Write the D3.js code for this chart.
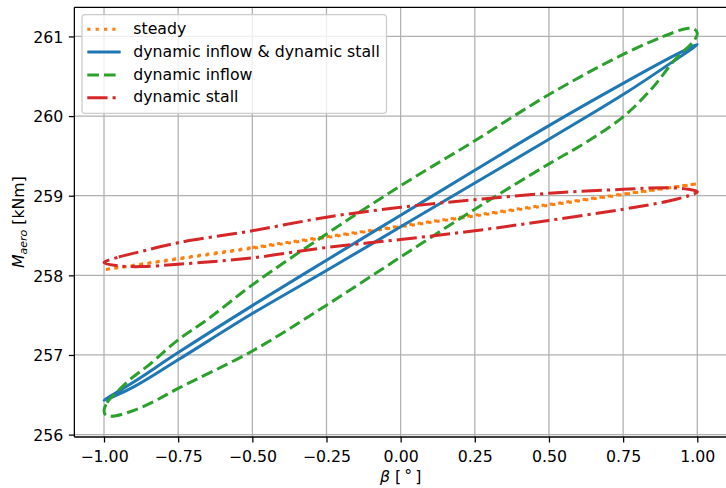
<!DOCTYPE html>
<html>
<head>
<meta charset="utf-8">
<script src="https://cdn.jsdelivr.net/npm/d3@7"></script>
<style>
  html, body { margin: 0; background: #fff; overflow: hidden; }
  svg { display: block; }
  text { font-family: "DejaVu Sans", sans-serif; fill: #000; }
</style>
</head>
<body>
<script>
// hysteresis loops of aerodynamic moment vs pitch angle, [beta, M] traced once round
var steady = [
  [-1.0, 258.07], [-0.5, 258.35], [0, 258.62], [0.5, 258.89], [1.0, 259.15],
  [0.5, 258.88], [0, 258.61], [-0.5, 258.34]
];
var dynInflowStall = [
  [-1.0, 256.43], [-0.9, 256.66], [-0.75, 257.03], [-0.5, 257.62], [-0.25, 258.19],
  [0, 258.755], [0.25, 259.32], [0.5, 259.88], [0.75, 260.41], [0.92, 260.755], [1.0, 260.90],
  [0.92, 260.69], [0.75, 260.27], [0.5, 259.71], [0.25, 259.16], [0, 258.61],
  [-0.25, 258.06], [-0.5, 257.52], [-0.75, 256.94], [-0.9, 256.60]
];
var dynInflow = [
  [-1.0, 256.30], [-0.99, 256.40], [-0.955, 256.54], [-0.91, 256.70], [-0.85, 256.87],
  [-0.75, 257.19], [-0.65, 257.45], [-0.5, 257.88], [-0.25, 258.52], [0, 259.125],
  [0.25, 259.69], [0.5, 260.27], [0.75, 260.775], [0.92, 261.05], [0.965, 261.10],
  [0.99, 261.09], [1.0, 261.04], [0.99, 260.95], [0.975, 260.89], [0.95, 260.80],
  [0.92, 260.69], [0.85, 260.36], [0.75, 259.99], [0.625, 259.67], [0.5, 259.40],
  [0.25, 258.83], [0, 258.23], [-0.25, 257.625], [-0.5, 257.05], [-0.75, 256.58],
  [-0.83, 256.42], [-0.91, 256.29], [-0.975, 256.23], [-0.995, 256.25]
];
var dynStall = [
  [-1.0, 258.16], [-0.95, 258.23], [-0.875, 258.30], [-0.75, 258.41], [-0.5, 258.56],
  [-0.25, 258.73], [0, 258.855], [0.25, 258.95], [0.5, 259.03], [0.75, 259.08],
  [0.9, 259.10], [0.97, 259.08], [1.0, 259.05], [0.97, 259.0], [0.9, 258.93],
  [0.75, 258.83], [0.5, 258.69], [0.25, 258.56], [0, 258.45], [-0.25, 258.35],
  [-0.5, 258.22], [-0.75, 258.14], [-0.875, 258.11], [-0.95, 258.12]
];

var seriesLabels = ["steady", "dynamic inflow & dynamic stall", "dynamic inflow", "dynamic stall"];
var xTicks = [-1, -0.75, -0.5, -0.25, 0, 0.25, 0.5, 0.75, 1];
var yTicks = [256, 257, 258, 259, 260, 261];

var width = 726, height = 488;
var fontSize = 15.75;

var svg = d3.select("body").append("svg")
    .attr("width", width)
    .attr("height", height);

var x = d3.scaleLinear().domain([-1.1, 1.1]).range([74.35, 726.95]);
var y = d3.scaleLinear().domain([255.97, 261.366]).range([437, 7.3]);

var plotLeft = x.range()[0], plotRight = x.range()[1];
var plotTop = y.range()[1], plotBottom = y.range()[0];

svg.append("defs").append("clipPath").attr("id", "plot")
  .append("rect")
    .attr("x", plotLeft).attr("y", plotTop)
    .attr("width", plotRight - plotLeft).attr("height", plotBottom - plotTop);

// grid
var grid = svg.append("g");
grid.selectAll(".gx").data(xTicks).enter().append("line")
    .attr("x1", d => x(d)).attr("x2", d => x(d))
    .attr("y1", plotTop).attr("y2", plotBottom)
    .style("stroke", "#b0b0b0").style("stroke-width", 1.26);
grid.selectAll(".gy").data(yTicks).enter().append("line")
    .attr("x1", plotLeft).attr("x2", plotRight)
    .attr("y1", d => y(d)).attr("y2", d => y(d))
    .style("stroke", "#b0b0b0").style("stroke-width", 1.26);

// loops
var series = [
  { data: steady, color: "#ff7f0e", dash: "3.15,5.2" },
  { data: dynInflowStall, color: "#1f77b4", dash: null },
  { data: dynInflow, color: "#2ca02c", dash: "11.65,5.04" },
  { data: dynStall, color: "#d62728", dash: "20.2,5.04,3.15,5.04" }
];

var loop = d3.line()
    .x(d => x(d[0]))
    .y(d => y(d[1]))
    .curve(d3.curveCatmullRomClosed.alpha(0.5));

var plot = svg.append("g").attr("clip-path", "url(#plot)");
series.forEach(function(s) {
  plot.append("path")
      .datum(s.data)
      .attr("d", loop)
      .style("fill", "none")
      .style("stroke", s.color)
      .style("stroke-width", 3)
      .style("stroke-linejoin", "round")
      .style("stroke-dasharray", s.dash);
});

// axes
var xAxis = d3.axisBottom(x).tickValues(xTicks).tickFormat(d3.format(".2f"))
    .tickSizeInner(5.5).tickSizeOuter(0).tickPadding(5.5);
var yAxis = d3.axisLeft(y).tickValues(yTicks).tickFormat(d3.format("d"))
    .tickSizeInner(5.5).tickSizeOuter(0).tickPadding(5.5);

var gx = svg.append("g").attr("transform", "translate(0," + plotBottom + ")").call(xAxis);
var gy = svg.append("g").attr("transform", "translate(" + plotLeft + ",0)").call(yAxis);
[gx, gy].forEach(function(g) {
  g.select(".domain").remove();
  g.selectAll(".tick line").style("stroke", "#000").style("stroke-width", 1.26);
  g.selectAll(".tick text")
      .style("font-family", "DejaVu Sans")
      .style("font-size", fontSize + "px")
      .style("fill", "#000");
});
gx.selectAll(".tick text").attr("y", 24.5).attr("dy", null);
gy.selectAll(".tick text").attr("dy", "0.36em");

// spines
var spine = svg.append("g").style("stroke", "#000").style("stroke-width", 1.26);
spine.append("line").attr("x1", plotLeft).attr("x2", plotLeft).attr("y1", plotTop).attr("y2", plotBottom);
spine.append("line").attr("x1", plotLeft).attr("x2", plotRight).attr("y1", plotBottom).attr("y2", plotBottom);
spine.append("line").attr("x1", plotLeft).attr("x2", plotRight).attr("y1", plotTop).attr("y2", plotTop);
spine.append("line").attr("x1", plotRight).attr("x2", plotRight).attr("y1", plotTop).attr("y2", plotBottom);

// axis labels
var xl = svg.append("text")
    .attr("x", x(0)).attr("y", 482)
    .attr("text-anchor", "middle")
    .style("font-size", fontSize + "px");
xl.append("tspan").style("font-style", "italic").text("β");
xl.append("tspan").text(" [\u2009");
xl.append("tspan").attr("dy", -1).text("°");
xl.append("tspan").attr("dy", 1).text("\u2009]");

var yl = svg.append("text")
    .attr("transform", "translate(23.5," + ((plotTop + plotBottom) / 2) + ") rotate(-90)")
    .attr("text-anchor", "middle")
    .style("font-size", fontSize + "px");
yl.append("tspan").style("font-style", "italic").text("M");
yl.append("tspan").style("font-style", "italic").style("font-size", "11px").attr("dy", 3.5).text("aero");
yl.append("tspan").attr("dy", -3.5).text(" [kNm]");

// legend
var legend = svg.append("g");
legend.append("rect")
    .attr("x", 82).attr("y", 14.7)
    .attr("width", 304.5).attr("height", 98.6)
    .attr("rx", 3.15)
    .style("fill", "#fff").style("fill-opacity", 0.8)
    .style("stroke", "#cccccc").style("stroke-width", 1.26);

var rows = legend.selectAll(".row").data(series).enter().append("g")
    .attr("transform", (d, i) => "translate(0," + (29.3 + i * 22.8) + ")");
rows.append("line")
    .attr("x1", 87.3).attr("x2", 120.7)
    .style("stroke", d => d.color)
    .style("stroke-width", 3)
    .style("stroke-dasharray", d => d.dash);
rows.append("text")
    .attr("x", 133.3).attr("y", 4.6)
    .style("font-size", fontSize + "px")
    .text((d, i) => seriesLabels[i]);
</script>
</body>
</html>
